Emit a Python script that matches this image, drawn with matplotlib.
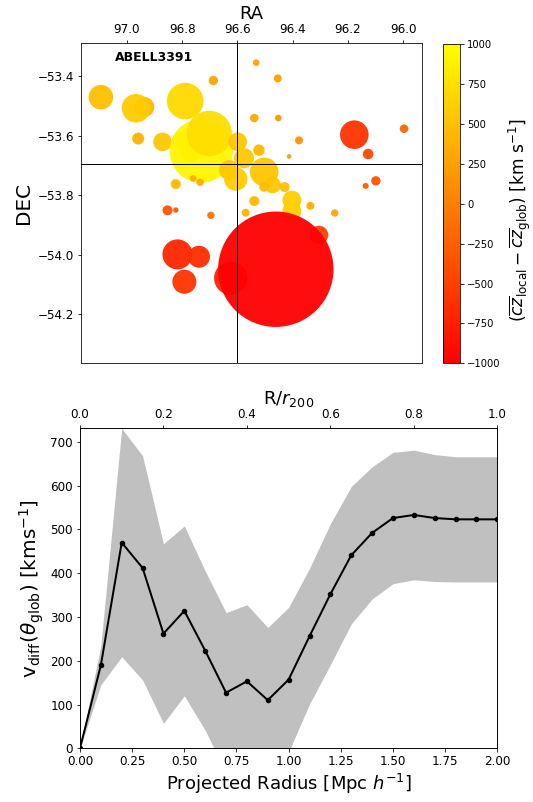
import matplotlib
matplotlib.use("Agg")
import matplotlib.pyplot as plt
import numpy as np

# galaxies: RA, DEC, bubble size (pt^2), local-global velocity offset (km/s)
ra = [97.094, 96.937, 96.967, 96.789, 96.687, 96.959, 96.871, 96.801, 96.771,
      96.731, 96.702, 96.599, 96.576, 96.630, 96.606, 96.823, 96.760, 96.735,
      96.532, 96.454, 96.539, 96.452, 96.377, 96.413, 96.522, 96.177, 96.127,
      95.997, 96.099, 96.136, 96.503, 96.473, 96.503, 96.429, 96.539, 96.570,
      96.403, 96.403, 96.336, 96.248, 96.696, 96.853, 96.823, 96.305, 96.817,
      96.739, 96.792, 96.624, 96.461]
dec = [-53.471, -53.504, -53.508, -53.484, -53.415, -53.610, -53.621, -53.616, -53.655,
       -53.652, -53.593, -53.621, -53.676, -53.716, -53.746, -53.763, -53.744, -53.757,
       -53.355, -53.408, -53.541, -53.541, -53.616, -53.670, -53.649, -53.597, -53.662,
       -53.577, -53.752, -53.769, -53.722, -53.766, -53.772, -53.773, -53.820, -53.859,
       -53.817, -53.854, -53.836, -53.860, -53.868, -53.851, -53.850, -53.934, -53.999,
       -54.007, -54.091, -54.079, -54.049]
size = [605, 400, 818, 1340, 88, 144, 346, 346, 400,
        4020, 2061, 346, 400, 400, 548, 100, 44, 55,
        44, 64, 74, 44, 64, 21, 130, 818, 112,
        74, 88, 36, 818, 276, 100, 100, 100, 64,
        361, 361, 64, 55, 55, 100, 29, 346, 900,
        484, 576, 1116, 13317]
dv = [500, 450, 600, 690, 300, 400, 550, 550, 580,
      920, 740, 560, 580, 560, 600, 450, 350, 350,
      250, 250, 330, 200, 150, 200, 450, -600, -450,
      -200, -350, -300, 560, 550, 480, 500, 450, 400,
      620, 620, 350, 300, -100, -350, -300, -500, -700,
      -650, -600, -750, -1000]
ra_center = 96.6
dec_center = -53.695
cbar_ticks = [-1000, -750, -500, -250, 0, 250, 500, 750, 1000]

# v_diff profile
radius = [0.0, 0.1, 0.2, 0.3, 0.4, 0.5, 0.6, 0.7, 0.8, 0.9, 1.0,
          1.1, 1.2, 1.3, 1.4, 1.5, 1.6, 1.7, 1.8, 1.9, 2.0]
vdiff = [0, 190, 470, 412, 262, 314, 223, 127, 153, 110, 157,
         256, 352, 441, 492, 526, 533, 526, 523, 523, 523]
vdiff_err = [0, 45, 261, 256, 205, 194, 182, 183, 175, 166, 165,
             155, 161, 157, 151, 150, 148, 145, 143, 143, 143]

W, H = 533, 802
fig = plt.figure(figsize=(W / 72, H / 72), dpi=72)

# top panel: bubble plot
ax1 = fig.add_axes([81 / W, 1 - 363.3 / H, 341.3 / W, 320 / H])
sc = ax1.scatter(ra, dec, s=size, c=dv, cmap="autumn", vmin=-1000, vmax=1000,
                 alpha=0.95, edgecolors="none")
ax1.axvline(ra_center, color="k", lw=1)
ax1.axhline(dec_center, color="k", lw=1)
ax1.set_xlim(97.166, 95.931)
ax1.set_ylim(-54.365, -53.29)
ax1.xaxis.tick_top()
ax1.xaxis.set_label_position("top")
ax1.set_xlabel("RA", fontsize=18)
ax1.set_ylabel("DEC", fontsize=20)
ax1.tick_params(labelsize=12)
ax1.text(0.1, 0.945, "ABELL3391", transform=ax1.transAxes, fontsize=12.5,
         fontweight="bold")

cax = fig.add_axes([443.3 / W, 1 - 363.3 / H, 16.7 / W, 319 / H])
cb = fig.colorbar(sc, cax=cax, ticks=cbar_ticks)
cb.solids.set_alpha(1)
cb.ax.tick_params(labelsize=10)
cb.set_label(r"$(\overline{cz}_{\rm local} - \overline{cz}_{\rm glob})$ [km s$^{-1}$]",
             fontsize=17, va="center")
cb.ax.yaxis.set_label_coords(4.6, 0.45)

# bottom panel: v_diff vs radius
ax2 = fig.add_axes([80 / W, 1 - 748.3 / H, 417.3 / W, 320 / H])
lo = np.array(vdiff) - np.array(vdiff_err)
hi = np.array(vdiff) + np.array(vdiff_err)
ax2.fill_between(radius, lo, hi, color="silver", lw=0)
ax2.plot(radius, vdiff, color="k", lw=2, marker="o", ms=4.5)
ax2.set_xlim(0, 2)
ax2.set_ylim(0, hi.max())
ax2.set_xticks(np.arange(0, 2.01, 0.25))
ax2.set_xlabel(r"Projected Radius [Mpc $h^{-1}$]", fontsize=18)
ax2.set_ylabel(r"v$_{\rm diff}$($\theta_{\rm glob}$) [kms$^{-1}$]", fontsize=20)
ax2.tick_params(labelsize=12)

ax3 = ax2.twiny()
ax3.set_xlim(0, 1)
ax3.set_xlabel(r"R/$r_{200}$", fontsize=18)
ax3.tick_params(labelsize=12)

fig.savefig("out.png", dpi=72)
